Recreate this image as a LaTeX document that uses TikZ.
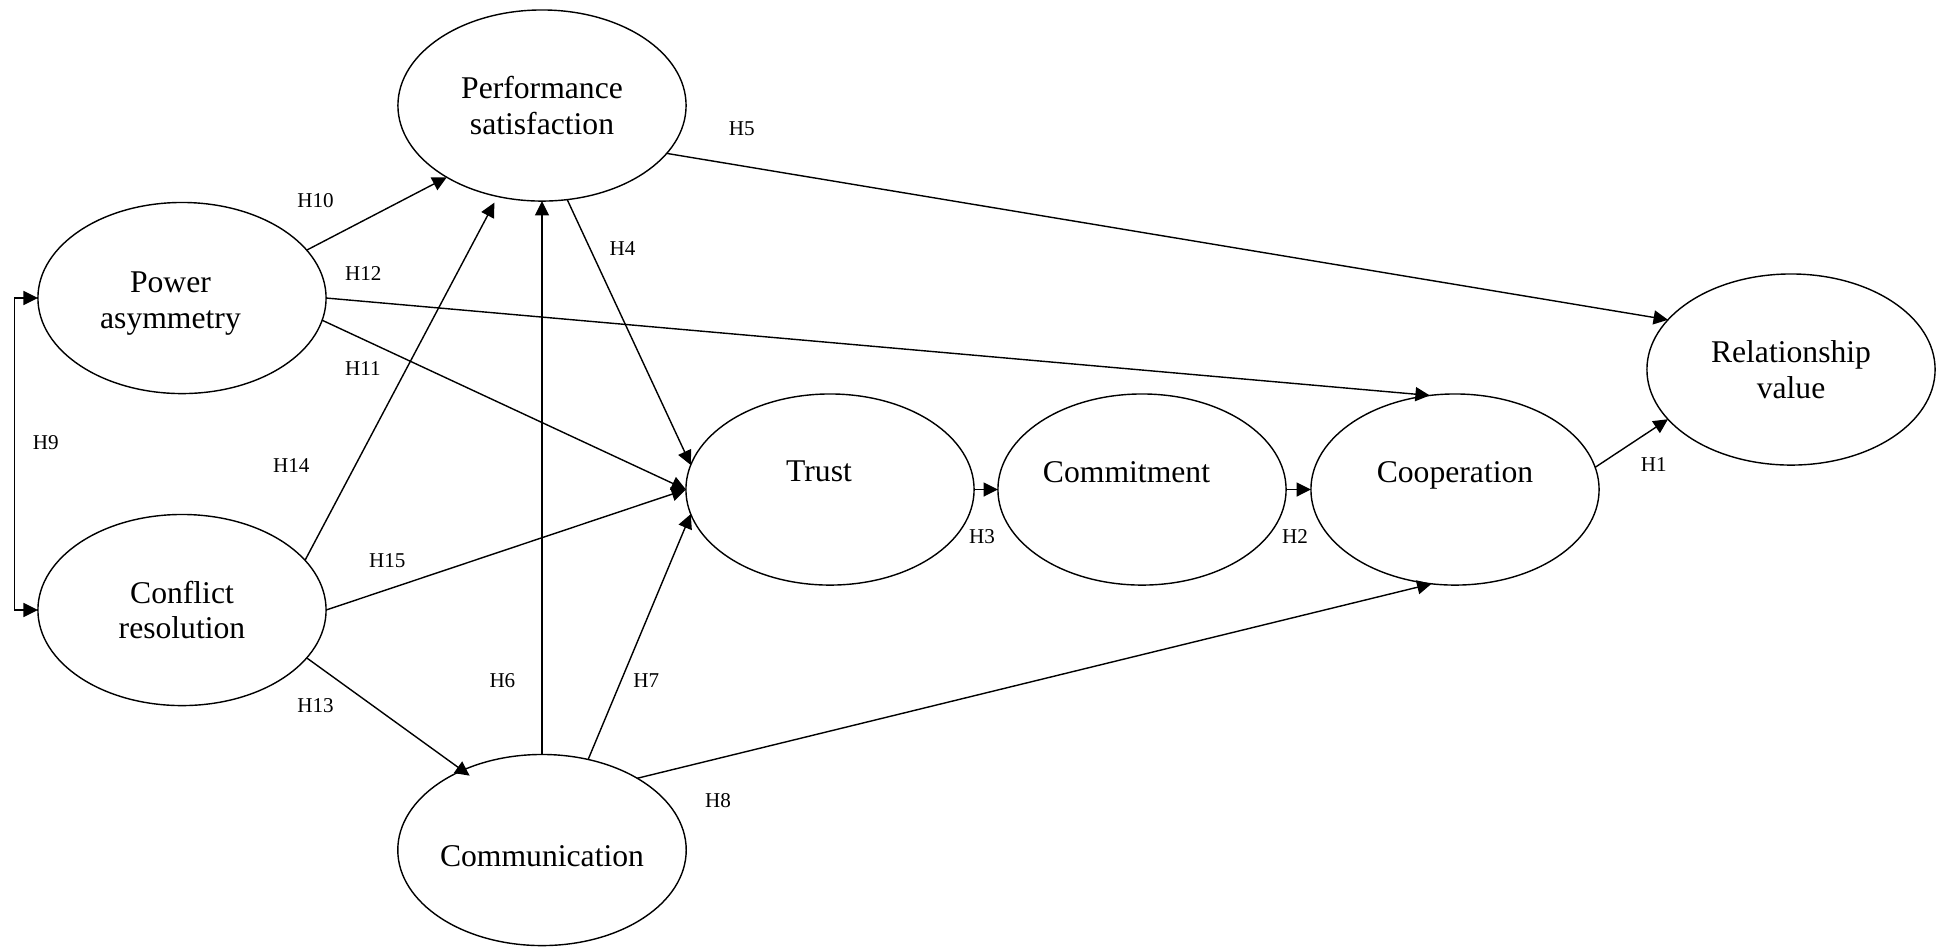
\documentclass[tikz,border=0pt]{standalone}
\usepackage{fontspec}
\setmainfont{Liberation Serif}
\usetikzlibrary{shapes.geometric,arrows.meta}
\begin{document}
\begin{tikzpicture}[x=0.01cm, y=-0.01cm,
  construct/.style={ellipse, draw, line width=0.4pt, minimum width=2.88cm,
    minimum height=1.91cm, inner sep=0pt, outer sep=0pt, align=center,
    font=\fontsize{9}{10.2}\selectfont},
  hyp/.style={font=\fontsize{6}{7}\selectfont, inner sep=0pt},
  link/.style={line width=0.4pt, -{Triangle[length=4.1pt,width=4pt]}},
  twoway/.style={line width=0.4pt, {Triangle[length=4.1pt,width=4pt]}-{Triangle[length=4.1pt,width=4pt]}},
]
\useasboundingbox (0,0) rectangle (1946,947);

% constructs
\node[construct] (perf)   at (542,105.5)  {Performance\\satisfaction};
\node[construct] (pow)    at (182,298)    {\rule{0pt}{0.31cm}Power\hspace*{0.23cm}\\asymmetry\hspace*{0.23cm}};
\node[construct] (conf)   at (182,610)    {Conflict\\resolution};
\node[construct] (comm)   at (542,850)    {\rule{0pt}{0.33cm}Communication};
\node[construct] (trust)  at (830,489.5)  {Trust\hspace*{0.22cm}\\\mbox{}};
\node[construct] (commit) at (1142,489.5) {Commitment\hspace*{0.31cm}\\\mbox{}};
\node[construct] (coop)   at (1455,489.5) {Cooperation\\\mbox{}};
\node[construct] (relv)   at (1791,369.5) {Relationship\\value};

% hypothesised paths
\draw[twoway] (pow.west) -- ++(-23.5,0) |- (conf.west);
\draw[link] (pow.21.9) -- (perf.217);
\draw[link] (pow.0) -- (coop.105.2);
\draw[link] (pow.-9.3) -- (trust.180);
\draw[link] (perf.-75.3) -- (trust.170);
\draw[link] (perf.-21.6) -- (relv.158.2);
\draw[link] (comm.90) -- (perf.270);
\draw[link, shorten >=0.7mm] (conf.22) -- (perf.244.3);
\draw[link] (conf.0) -- (trust.180);
\draw[link, shorten >=-0.9mm] (conf.-21.7) -- (comm.135.2);
\draw[link] (comm.63.3) -- (trust.190.7);
\draw[link] (comm.37) -- (coop.-104.25);
\draw[link] (trust.0) -- (commit.180);
\draw[link] (commit.0) -- (coop.180);
\draw[link] (coop.9.1) -- (relv.202.1);

% hypothesis labels
\node[hyp] (h1)  at (1653.8,464.5) {H1};
\node[hyp] (h2)  at (1295,536.7)   {H2};
\node[hyp] (h3)  at (982,536.7)    {H3};
\node[hyp] (h4)  at (622.4,248.8)  {H4};
\node[hyp] (h5)  at (741.7,128.3)  {H5};
\node[hyp] (h6)  at (502.4,680.8)  {H6};
\node[hyp] (h7)  at (646.2,680.8)  {H7};
\node[hyp] (h8)  at (718,800.6)    {H8};
\node[hyp] (h9)  at (45.8,443)     {H9};
\node[hyp] (h10) at (315.6,201)    {H10};
\node[hyp] (h11) at (362.8,368.3)  {H11};
\node[hyp] (h12) at (363.3,273.8)  {H12};
\node[hyp] (h13) at (315.5,705.5)  {H13};
\node[hyp] (h14) at (291.3,465.3)  {H14};
\node[hyp] (h15) at (387.2,560.8)  {H15};
\end{tikzpicture}
\end{document}
